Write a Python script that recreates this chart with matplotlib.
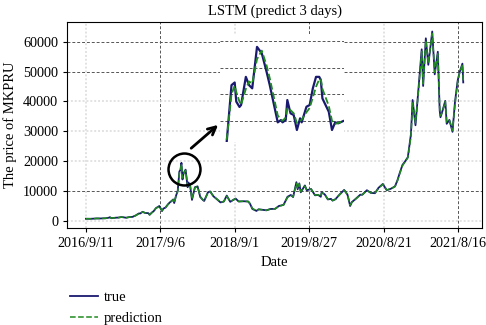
import numpy as np
import pandas as pd
import matplotlib
matplotlib.use('Agg')
import matplotlib.pyplot as plt

plt.rcParams['font.family'] = ['Liberation Serif', 'DejaVu Serif']
plt.rcParams['font.size'] = 10.5

# MKPRU price, true and 3-day LSTM prediction
dates = ['2016-09-11', '2016-10-01', '2016-10-15', '2016-11-01', '2016-11-15', '2016-12-01',
         '2016-12-15', '2017-01-01', '2017-01-05', '2017-01-12', '2017-02-01', '2017-02-15',
         '2017-03-01', '2017-03-10', '2017-03-25', '2017-04-10', '2017-04-25', '2017-05-10',
         '2017-05-25', '2017-06-01', '2017-06-12', '2017-06-25', '2017-07-10', '2017-07-16',
         '2017-07-25', '2017-08-05', '2017-08-15', '2017-09-01', '2017-09-14', '2017-09-20',
         '2017-10-01', '2017-10-12', '2017-10-20', '2017-11-01', '2017-11-07', '2017-11-12',
         '2017-11-20', '2017-11-29', '2017-12-07', '2017-12-12', '2017-12-17', '2017-12-22',
         '2017-12-27', '2018-01-06', '2018-01-16', '2018-01-20', '2018-01-28', '2018-02-06',
         '2018-02-20', '2018-03-05', '2018-03-18', '2018-03-31', '2018-04-06', '2018-04-24',
         '2018-05-05', '2018-05-20', '2018-06-01', '2018-06-24', '2018-07-10', '2018-07-24',
         '2018-08-10', '2018-08-28', '2018-09-05', '2018-09-20', '2018-10-15', '2018-11-05',
         '2018-11-14', '2018-11-25', '2018-12-15', '2018-12-25', '2019-01-10', '2019-02-01',
         '2019-02-20', '2019-03-15', '2019-04-02', '2019-04-25', '2019-05-14', '2019-05-30',
         '2019-06-10', '2019-06-26', '2019-07-02', '2019-07-10', '2019-07-17', '2019-08-06',
         '2019-08-15', '2019-09-05', '2019-09-24', '2019-10-10', '2019-10-22', '2019-10-26',
         '2019-11-10', '2019-11-25', '2019-12-10', '2019-12-18', '2020-01-01', '2020-01-20',
         '2020-02-12', '2020-02-28', '2020-03-12', '2020-03-20', '2020-04-06', '2020-04-30',
         '2020-05-10', '2020-06-01', '2020-06-20', '2020-07-10', '2020-07-27', '2020-08-17',
         '2020-09-05', '2020-09-25', '2020-10-15', '2020-10-27', '2020-11-05', '2020-11-20',
         '2020-12-01', '2020-12-16', '2020-12-31', '2021-01-08', '2021-01-22', '2021-02-08',
         '2021-02-21', '2021-02-28', '2021-03-13', '2021-03-25', '2021-04-13', '2021-04-25',
         '2021-05-10', '2021-05-19', '2021-05-23', '2021-06-01', '2021-06-15', '2021-06-22',
         '2021-07-05', '2021-07-20', '2021-08-01', '2021-08-14', '2021-08-23', '2021-09-06',
         '2021-09-10']
true_price = [621, 610, 640, 730, 710, 750, 780, 995, 1150, 800, 970, 1010,
              1190, 1120, 960, 1200, 1260, 1750, 2400, 2400, 2950, 2550, 2500, 1930,
              2600, 3200, 4150, 4900, 3200, 4000, 4400, 5400, 6000, 6700, 7100, 5900,
              8200, 10000, 16500, 17000, 19400, 13800, 15800, 17100, 11200, 12800, 11700, 6950,
              11200, 11500, 7900, 6900, 6600, 9500, 9800, 8200, 7500, 6100, 6400, 8400,
              6300, 7100, 7400, 6400, 6500, 6400, 5600, 3900, 3250, 3800, 3650, 3450,
              3900, 3950, 4900, 5300, 8000, 8600, 7900, 12900, 10500, 12500, 9500, 11800,
              10200, 10600, 8500, 8600, 8000, 9500, 8800, 7100, 7300, 6700, 7200, 8700,
              10300, 8700, 4900, 6200, 7200, 8700, 8700, 10200, 9300, 9200, 11000, 12300,
              10200, 10700, 11500, 13600, 15600, 18700, 19700, 21300, 29000, 40500, 32000, 46300,
              57500, 45200, 61200, 52300, 63500, 49100, 56700, 37000, 34700, 36700, 40200, 32500,
              33800, 29800, 39800, 47000, 49700, 52700, 46400]
pred_price = [640, 615, 635, 720, 715, 745, 775, 960, 1120, 850, 950, 1000,
              1170, 1130, 980, 1180, 1250, 1700, 2350, 2420, 2900, 2600, 2480, 2000,
              2550, 3150, 4100, 4850, 3300, 3950, 4380, 5350, 5950, 6650, 7050, 6000,
              8100, 9800, 16000, 16900, 19000, 14300, 15600, 16900, 11600, 12600, 11800, 7200,
              11000, 11400, 8100, 7000, 6650, 9300, 9700, 8300, 7550, 6200, 6400, 8200,
              6400, 7050, 7350, 6450, 6500, 6420, 5700, 4100, 3300, 3750, 3660, 3470,
              3850, 3950, 4800, 5250, 7800, 8500, 7950, 12500, 10700, 12300, 9700, 11600,
              10300, 10550, 8600, 8620, 8050, 9300, 8850, 7200, 7280, 6750, 7150, 8600,
              10200, 8800, 5200, 6100, 7150, 8600, 8700, 10100, 9350, 9220, 10800, 12200,
              10300, 10650, 11450, 13400, 15400, 18400, 19600, 21100, 28200, 39500, 32800, 45600,
              56800, 45900, 60500, 52800, 62800, 49800, 56000, 37800, 35200, 36500, 40000, 33000,
              33700, 30200, 39200, 46600, 49500, 52400, 47000]

tick_dates = ['2016-09-11', '2017-09-06', '2018-09-01', '2019-08-27', '2020-08-21', '2021-08-16']
tick_labels = ['2016/9/11', '2017/9/6', '2018/9/1', '2019/8/27', '2020/8/21', '2021/8/16']

# circled peak
peak_date = '2017-12-31'
peak_price = 17300

# zoomed view shown in the inset (day offset, price)
inset_day = [0, 3, 5, 6, 8, 9, 12, 14, 16, 19, 22, 25, 27, 32, 34, 35, 37, 38, 40, 42, 44,
             46, 47, 50, 52, 54, 56, 58, 59, 60, 64, 66, 68, 70, 73]
inset_true = [8030, 13350, 13600, 11800, 11300, 11480, 14130, 13350, 13050, 16950, 16340,
              14600, 13350, 9850, 10070, 9850, 10070, 11950, 10700, 10540, 9130, 10230, 9850,
              11320, 11480, 13050, 14130, 14130, 13830, 12100, 10850, 9130, 9850, 9760, 9970]
inset_pred = [8200, 12500, 13300, 12700, 11800, 11500, 13000, 13700, 13500, 15800, 16600,
              15200, 14000, 10500, 10100, 10000, 10300, 11200, 11000, 10700, 9800, 10000, 10100,
              10800, 11200, 12200, 13200, 13900, 13900, 13000, 11400, 10000, 9700, 9800, 9950]

x = pd.to_datetime(dates)
fig = plt.figure(figsize=(4.86, 3.25), dpi=100)
ax = fig.add_axes([0.138, 0.298, 0.854, 0.634])

l1, = ax.plot(x, true_price, color='#191970', lw=1.3, label='true')
l2, = ax.plot(x, pred_price, color='#1f8a1f', lw=1.1, ls='--', label='prediction')
ax.plot(pd.to_datetime([peak_date]), [peak_price], marker='o', ms=23, mfc='none',
        mec='black', mew=1.8)

ax.set_xticks(pd.to_datetime(tick_dates))
ax.set_xticklabels(tick_labels)
ax.set_yticks([0, 10000, 20000, 30000, 40000, 50000, 60000])
ax.set_title('LSTM (predict 3 days)', fontsize=10.5, pad=5)
ax.set_xlabel('Date')
ax.set_ylabel('The price of MKPRU')
ax.tick_params(labelsize=10.2, length=3)

ax.grid(True)
dark = dict(color='#555555', ls=(0, (3, 2)), lw=0.7)
light = dict(color='#e2e2e2', ls=(0, (1, 1)), lw=1.4)
for i, g in enumerate(ax.xaxis.get_gridlines()):
    g.set(**(dark if i % 2 == 1 else light))
for i, g in enumerate(ax.yaxis.get_gridlines()):
    g.set(**(dark if i in (1, 5, 6) else light))

ax.annotate('', xy=(0.369, 0.51), xytext=(0.294, 0.379), xycoords='axes fraction',
            arrowprops=dict(arrowstyle='->', lw=2, color='black', mutation_scale=14))

# inset zoom
axin = fig.add_axes([0.4527, 0.563, 0.255, 0.332])
axin.set_facecolor('white')
axin.plot(inset_day, inset_true, color='#191970', lw=1.6)
axin.plot(inset_day, inset_pred, color='#1f8a1f', lw=1.3, ls='--')
axin.set_xlim(-4.2, 73.5)
axin.set_ylim(8000, 18150)
axin.set_yticks([10000, 12500, 15000, 17500])
axin.set_xticks([])
axin.grid(True, axis='y', color='#555555', ls=(0, (3, 2)), lw=0.7)
axin.tick_params(left=False, labelleft=False)
for s in axin.spines.values():
    s.set_visible(False)

fig.legend(handles=[l1, l2], loc='lower left', bbox_to_anchor=(0.118, -0.04),
           frameon=False, fontsize=10.5, handletextpad=0.4, handlelength=1.9)

fig.savefig('out.png', dpi=100)
